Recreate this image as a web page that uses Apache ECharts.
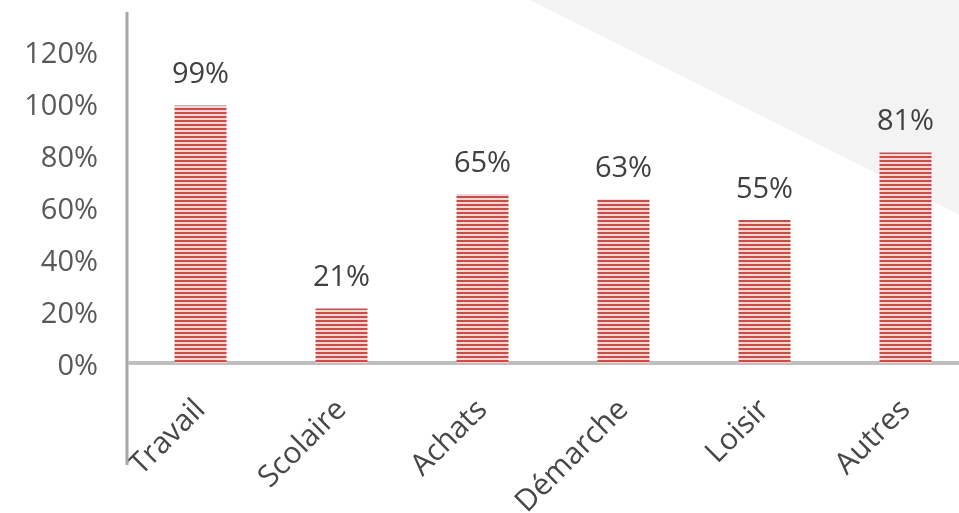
<!DOCTYPE html>
<html><head><meta charset="utf-8">
<script src="https://cdn.jsdelivr.net/npm/echarts@6/dist/echarts.min.js"></script>
<style>html,body{margin:0;padding:0;background:#fff;overflow:hidden;width:959px;height:513px}#c{width:976px;height:513px}</style>
</head><body><div id="c"></div>
<script>
const categories = ['Travail', 'Scolaire', 'Achats', 'Démarche', 'Loisir', 'Autres'];
const values = [99, 21, 65, 63, 55, 81];
const yMin = 0, yMax = 120, yInterval = 20;

const FONT = 'Open Sans';
const pat = document.createElement('canvas');
pat.width = 4; pat.height = 4;
const g = pat.getContext('2d');
g.fillStyle = '#f5d6d6'; g.fillRect(0, 0, 4, 4);
g.fillStyle = '#c74d4b'; g.fillRect(0, 0, 4, 2);

const chart = echarts.init(document.getElementById('c'), null, {renderer: 'canvas'});
chart.setOption({
  animation: false,
  backgroundColor: '#ffffff',
  graphic: [
    {type: 'polygon', z: -10, silent: true, shape: {points: [[530, 0], [976, 0], [976, 223]]}, style: {fill: '#f3f3f3'}},
    {type: 'line', z: 10, silent: true, shape: {x1: 127, y1: 12, x2: 127, y2: 465}, style: {stroke: '#a6a6a6', lineWidth: 3}}
  ],
  grid: {left: 130, top: 51, right: 0, height: 312, containLabel: false, outerBoundsMode: 'none'},
  xAxis: {
    type: 'category', data: categories,
    axisTick: {show: false},
    axisLine: {lineStyle: {color: '#bfbfbf', width: 4}},
    axisLabel: {rotate: 45, fontSize: 30, color: '#474747', margin: 42, fontFamily: FONT, interval: 0}
  },
  yAxis: {
    type: 'value', min: yMin, max: yMax, interval: yInterval,
    splitLine: {show: false}, axisLine: {show: false}, axisTick: {show: false},
    axisLabel: {formatter: '{value}%', fontSize: 29, color: '#595959', margin: 32, fontFamily: FONT, verticalAlign: 'top', lineHeight: 8}
  },
  series: [{
    type: 'bar', data: values, barWidth: 52,
    itemStyle: {color: {image: pat, repeat: 'repeat'}},
    label: {show: true, position: 'top', distance: 16, formatter: '{c}%', fontSize: 29, color: '#404040', fontFamily: FONT}
  }]
});
</script></body></html>
